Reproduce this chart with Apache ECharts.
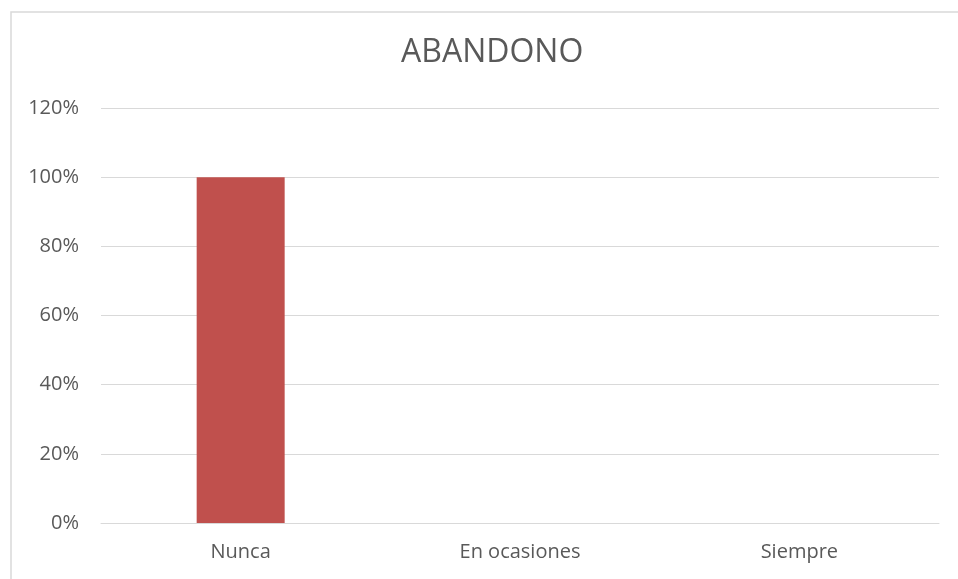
<!DOCTYPE html>
<html><head><meta charset="utf-8">
<script src="https://cdn.jsdelivr.net/npm/echarts@6/dist/echarts.min.js"></script>
<style>html,body{margin:0;padding:0;background:#fff}#c{width:958px;height:579px}</style>
</head><body><div id="c"></div>
<script>
const categories = ['Nunca', 'En ocasiones', 'Siempre'];
const values = [1, 0, 0];
const yTicks = { min: 0, max: 1.2, interval: 0.2 };
const titleText = 'ABANDONO';

const chart = echarts.init(document.getElementById('c'));
const font = '"Open Sans", sans-serif';
chart.setOption({
  animation: false,
  backgroundColor: '#fff',
  graphic: [{
    type: 'rect', left: 8.5, top: 9.5,
    shape: { width: 1000, height: 600 },
    style: { fill: 'none', stroke: '#d9d9d9', lineWidth: 1.5 }, silent: true
  }],
  title: {
    text: titleText, left: 396, top: 32,
    textStyle: { fontFamily: font, fontSize: 32, fontWeight: 'normal', color: '#595959' }
  },
  grid: { left: 101, right: 19, top: 108, bottom: 56 },
  xAxis: {
    type: 'category', data: categories,
    axisLine: { show: true, lineStyle: { color: '#d9d9d9', width: 1 } },
    axisTick: { show: false },
    axisLabel: { fontFamily: font, fontSize: 20, color: '#595959', margin: 19 }
  },
  yAxis: {
    type: 'value', min: yTicks.min, max: yTicks.max, interval: yTicks.interval,
    axisLine: { show: false }, axisTick: { show: false },
    splitLine: { lineStyle: { color: '#d9d9d9', width: 1 } },
    axisLabel: { fontFamily: font, fontSize: 20, color: '#595959', margin: 22,
      formatter: v => Math.round(v * 100) + '%' }
  },
  series: [{
    type: 'bar', data: values, barWidth: 88,
    itemStyle: { color: '#C0504D' }
  }]
});
</script></body></html>
